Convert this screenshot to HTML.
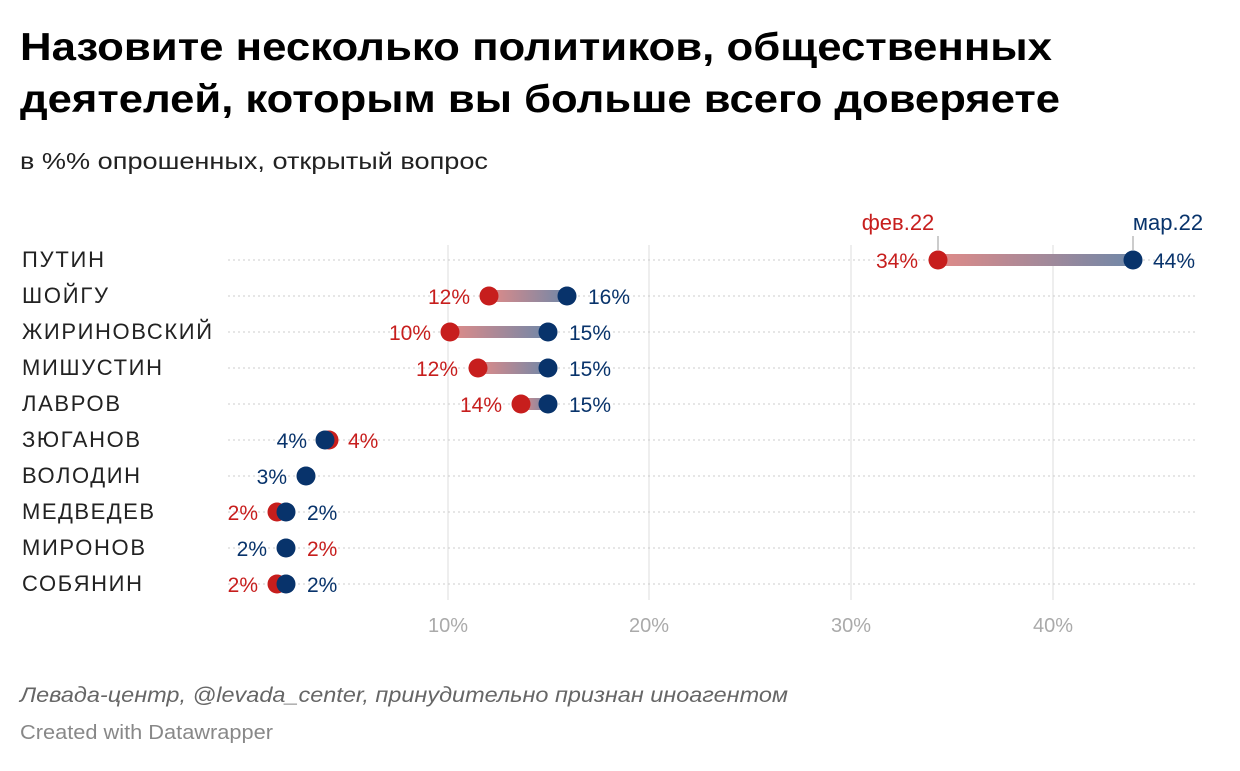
<!DOCTYPE html>
<html><head><meta charset="utf-8"><style>
body{margin:0;background:#fff;width:1240px;height:766px;overflow:hidden}
svg text{font-family:"Liberation Sans",sans-serif}
</style></head><body>
<svg width="1240" height="766" xmlns="http://www.w3.org/2000/svg">
<defs>
<linearGradient id="g" x1="0" x2="1" y1="0" y2="0"><stop offset="0" stop-color="#e08a88"/><stop offset="1" stop-color="#7088a8"/></linearGradient>
</defs>
<text x="20" y="60" font-size="39" font-weight="bold" fill="#000" textLength="1032" lengthAdjust="spacingAndGlyphs">Назовите несколько политиков, общественных</text>
<text x="20" y="112" font-size="39" font-weight="bold" fill="#000" textLength="1040" lengthAdjust="spacingAndGlyphs">деятелей, которым вы больше всего доверяете</text>
<text x="20" y="169" font-size="23" fill="#222" textLength="468" lengthAdjust="spacingAndGlyphs">в %% опрошенных, открытый вопрос</text>
<g stroke="#ddd" stroke-width="1">
<line x1="448" y1="245" x2="448" y2="600"/><line x1="649" y1="245" x2="649" y2="600"/>
<line x1="851" y1="245" x2="851" y2="600"/><line x1="1053" y1="245" x2="1053" y2="600"/>
</g>
<g stroke="#ccc" stroke-width="1" stroke-dasharray="2,3">
<line x1="228" y1="260" x2="1198" y2="260"/><line x1="228" y1="296" x2="1198" y2="296"/>
<line x1="228" y1="332" x2="1198" y2="332"/><line x1="228" y1="368" x2="1198" y2="368"/>
<line x1="228" y1="404" x2="1198" y2="404"/><line x1="228" y1="440" x2="1198" y2="440"/>
<line x1="228" y1="476" x2="1198" y2="476"/><line x1="228" y1="512" x2="1198" y2="512"/>
<line x1="228" y1="548" x2="1198" y2="548"/><line x1="228" y1="584" x2="1198" y2="584"/>
</g>
<g font-size="22" fill="#222" lengthAdjust="spacingAndGlyphs">
<text x="22" y="267" textLength="82">ПУТИН</text><text x="22" y="303" textLength="86">ШОЙГУ</text><text x="22" y="339" textLength="190">ЖИРИНОВСКИЙ</text>
<text x="22" y="375" textLength="140">МИШУСТИН</text><text x="22" y="411" textLength="98">ЛАВРОВ</text><text x="22" y="447" textLength="118">ЗЮГАНОВ</text>
<text x="22" y="483" textLength="118">ВОЛОДИН</text><text x="22" y="519" textLength="132">МЕДВЕДЕВ</text><text x="22" y="555" textLength="123">МИРОНОВ</text>
<text x="22" y="591" textLength="120">СОБЯНИН</text>
</g>
<g font-size="20" fill="#aaa" text-anchor="middle">
<text x="448" y="632">10%</text><text x="649" y="632">20%</text><text x="851" y="632">30%</text><text x="1053" y="632">40%</text>
</g>
<g fill="url(#g)">
<rect x="938" y="254" width="195" height="12"/>
<rect x="489" y="290" width="78" height="12"/>
<rect x="450" y="326" width="98" height="12"/>
<rect x="478" y="362" width="70" height="12"/>
<rect x="521" y="398" width="27" height="12"/>
</g>
<g fill="#c71e1d">
<circle cx="938" cy="260" r="9.5"/><circle cx="489" cy="296" r="9.5"/><circle cx="450" cy="332" r="9.5"/>
<circle cx="478" cy="368" r="9.5"/><circle cx="521" cy="404" r="9.5"/><circle cx="329" cy="440" r="9.5"/>
<circle cx="277" cy="512" r="9.5"/><circle cx="277" cy="584" r="9.5"/>
</g>
<g fill="#08336b">
<circle cx="1133" cy="260" r="9.5"/><circle cx="567" cy="296" r="9.5"/><circle cx="548" cy="332" r="9.5"/>
<circle cx="548" cy="368" r="9.5"/><circle cx="548" cy="404" r="9.5"/><circle cx="325" cy="440" r="9.5"/>
<circle cx="306" cy="476" r="9.5"/><circle cx="286" cy="512" r="9.5"/><circle cx="286" cy="548" r="9.5"/>
<circle cx="286" cy="584" r="9.5"/>
</g>
<line x1="938" y1="236" x2="938" y2="250" stroke="#999"/>
<line x1="1133" y1="236" x2="1133" y2="250" stroke="#999"/>
<text x="898" y="230" font-size="22" fill="#c71e1d" text-anchor="middle">фев.22</text>
<text x="1168" y="230" font-size="22" fill="#08336b" text-anchor="middle">мар.22</text>
<g font-size="21" fill="#c71e1d" text-anchor="end">
<text x="918" y="268">34%</text><text x="470" y="304">12%</text><text x="431" y="340">10%</text>
<text x="458" y="376">12%</text><text x="502" y="412">14%</text><text x="258" y="520">2%</text><text x="258" y="592">2%</text>
</g>
<g font-size="21" fill="#c71e1d"><text x="348" y="448">4%</text><text x="307" y="556">2%</text></g>
<g font-size="21" fill="#08336b">
<text x="1153" y="268">44%</text><text x="588" y="304">16%</text><text x="569" y="340">15%</text>
<text x="569" y="376">15%</text><text x="569" y="412">15%</text><text x="307" y="520">2%</text><text x="307" y="592">2%</text>
</g>
<g font-size="21" fill="#08336b" text-anchor="end"><text x="307" y="448">4%</text><text x="287" y="484">3%</text><text x="267" y="556">2%</text></g>
<text x="20" y="702" font-size="21" font-style="italic" fill="#666" textLength="768" lengthAdjust="spacingAndGlyphs">Левада-центр, @levada_center, принудительно признан иноагентом</text>
<text x="20" y="739" font-size="20" fill="#888" textLength="253" lengthAdjust="spacingAndGlyphs">Created with Datawrapper</text>
</svg>
</body></html>
